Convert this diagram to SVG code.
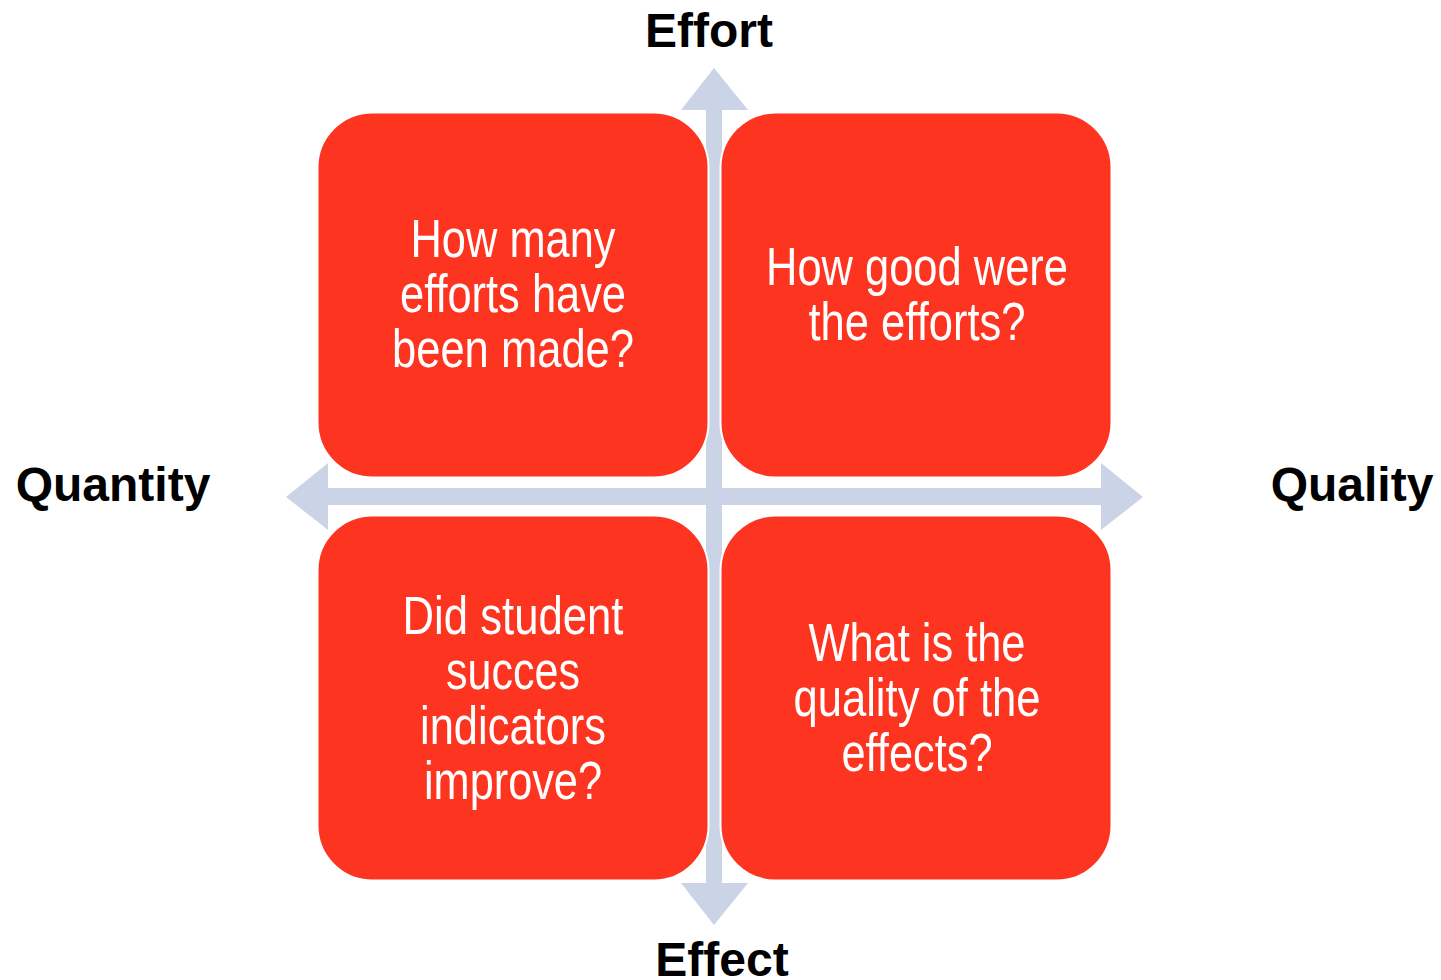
<svg xmlns="http://www.w3.org/2000/svg" width="1441" height="980" viewBox="0 0 1441 980">
<style>
.box{fill:#FC3420;stroke:#ffffff;stroke-width:2}
.arr{fill:#CBD3E6}
.q{font-family:"Liberation Sans",Arial,sans-serif;font-size:54px;fill:#ffffff;text-anchor:middle}
.lbl{font-family:"Liberation Sans",Arial,sans-serif;font-size:48px;font-weight:bold;fill:#000000;text-anchor:middle}
</style>
<rect width="1441" height="980" fill="#ffffff"/>
<g id="connectors">
<polygon class="arr" points="714,68 748,110 722,110 722,883 748,883 714,925 681,883 706,883 706,110 681,110"/>
<polygon class="arr" points="286,497 328,463 328,488 1101,488 1101,463 1143,497 1101,530 1101,505 328,505 328,530"/>
</g>
<g id="node-tl">
<rect class="box" x="317.5" y="112.5" width="391" height="365" rx="55" ry="55"/>
<text class="q"><tspan x="513" y="257" textLength="205" lengthAdjust="spacingAndGlyphs">How many</tspan><tspan x="513" y="312" textLength="226" lengthAdjust="spacingAndGlyphs">efforts have</tspan><tspan x="513" y="367" textLength="242" lengthAdjust="spacingAndGlyphs">been made?</tspan></text>
</g>
<g id="node-tr">
<rect class="box" x="720.5" y="112.5" width="391" height="365" rx="55" ry="55"/>
<text class="q"><tspan x="917" y="285" textLength="302" lengthAdjust="spacingAndGlyphs">How good were</tspan><tspan x="917" y="340" textLength="217" lengthAdjust="spacingAndGlyphs">the efforts?</tspan></text>
</g>
<g id="node-bl">
<rect class="box" x="317.5" y="515.5" width="391" height="365" rx="55" ry="55"/>
<text class="q"><tspan x="513" y="634" textLength="221" lengthAdjust="spacingAndGlyphs">Did student</tspan><tspan x="513" y="689" textLength="134" lengthAdjust="spacingAndGlyphs">succes</tspan><tspan x="513" y="744" textLength="186" lengthAdjust="spacingAndGlyphs">indicators</tspan><tspan x="513" y="799" textLength="178" lengthAdjust="spacingAndGlyphs">improve?</tspan></text>
</g>
<g id="node-br">
<rect class="box" x="720.5" y="515.5" width="391" height="365" rx="55" ry="55"/>
<text class="q"><tspan x="917" y="661" textLength="217" lengthAdjust="spacingAndGlyphs">What is the</tspan><tspan x="917" y="716" textLength="247" lengthAdjust="spacingAndGlyphs">quality of the</tspan><tspan x="917" y="771" textLength="151" lengthAdjust="spacingAndGlyphs">effects?</tspan></text>
</g>
<g id="labels">
<text class="lbl" x="709" y="47">Effort</text>
<text class="lbl" x="722" y="976">Effect</text>
<text class="lbl" x="113" y="501">Quantity</text>
<text class="lbl" x="1352" y="501">Quality</text>
</g>
</svg>
